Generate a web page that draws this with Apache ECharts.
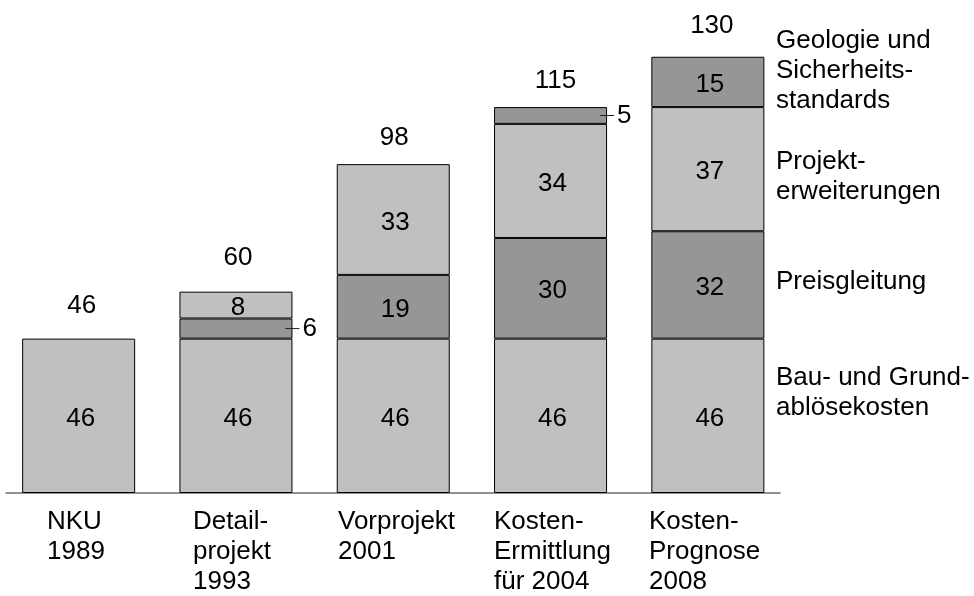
<!DOCTYPE html>
<html>
<head>
<meta charset="utf-8">
<script src="https://cdn.jsdelivr.net/npm/echarts@6/dist/echarts.min.js"></script>
<style>
  html, body { margin: 0; padding: 0; background: #fff; }
  #chart { width: 974px; height: 596px; }
</style>
</head>
<body>
<div id="chart"></div>
<script>
// Cost development in millions, stacked by cost component
const categories = ['NKU\n1989', 'Detail-\nprojekt\n1993', 'Vorprojekt\n2001', 'Kosten-\nErmittlung\nfür 2004', 'Kosten-\nPrognose\n2008'];
const seriesNames = ['Bau- und Grund-\nablösekosten', 'Preisgleitung', 'Projekt-\nerweiterungen', 'Geologie und\nSicherheits-\nstandards'];
const bauGrund = [46, 46, 46, 46, 46];
const preisgleitung = [null, 6, 19, 30, 32];
const projekterweiterungen = [null, 8, 33, 34, 37];
const geologie = [null, null, null, 5, 15];
const totals = [46, 60, 98, 115, 130];

// Layout constants
const FONT = "'Liberation Sans', Arial, Helvetica, sans-serif";
const FONT_SIZE = 26;
const segmentColors = ['#c0c0c0', '#969696', '#c0c0c0', '#969696'];
const categoryLabelX = [47, 193, 338, 494, 649];
const legendLabelY = [363, 267, 147, 26];
const totalLabelGap = [20, 21, 13.5, 13.5, 18];
const totalLabelShift = [3, 2, 1, 5, 4];
const SIDE_LABEL_LIMIT = 7;   // segments thinner than this get their value beside the bar

const segments = [bauGrund, preisgleitung, projekterweiterungen, geologie];

const sideLabel = {
  position: 'right',
  distance: 0,
  offset: [-7, 0],
  formatter: p => '{l|}{v|' + p.value + '}',
  rich: {
    l: { width: 14, height: 1, backgroundColor: '#222', verticalAlign: 'middle' },
    v: { fontSize: FONT_SIZE, fontFamily: FONT, color: '#000', padding: [0, 0, 0, 3], verticalAlign: 'middle' }
  }
};

const barSeries = segments.map((vals, s) => ({
  type: 'bar',
  name: seriesNames[s],
  stack: 'total',
  xAxisIndex: 0,
  yAxisIndex: 0,
  barWidth: 113,
  silent: true,
  itemStyle: { color: segmentColors[s], borderColor: '#000', borderWidth: 1 },
  label: {
    show: true,
    position: 'inside',
    offset: [2, 3],
    color: '#000',
    fontSize: FONT_SIZE,
    fontFamily: FONT
  },
  data: vals.map(v => (v != null && v < SIDE_LABEL_LIMIT) ? { value: v, label: sideLabel } : v)
}));

// Invisible points at the stack totals carry the total labels above each bar
const totalSeries = {
  type: 'scatter',
  xAxisIndex: 0,
  yAxisIndex: 0,
  symbolSize: 0,
  silent: true,
  z: 5,
  itemStyle: { color: '#000', opacity: 1 },
  label: {
    show: true,
    position: 'top',
    color: '#000',
    fontSize: FONT_SIZE,
    fontFamily: FONT,
    formatter: '{c}'
  },
  data: totals.map((v, i) => ({
    value: v,
    label: { color: '#000', distance: totalLabelGap[i], offset: [totalLabelShift[i], 0] }
  }))
};

const textStyle = { fontSize: FONT_SIZE, fontFamily: FONT, fill: '#000', lineHeight: 30 };

const chart = echarts.init(document.getElementById('chart'), null, { renderer: 'canvas' });
chart.setOption({
  animation: false,
  backgroundColor: '#fff',
  grid: [
    { left: -2.8, width: 789.3, top: 23.2, bottom: 103 },
    { left: 6, right: 194, top: 23.2, bottom: 103 }
  ],
  xAxis: [
    {
      type: 'category', gridIndex: 0, data: categories,
      axisLine: { show: false }, axisTick: { show: false }, axisLabel: { show: false }
    },
    {
      type: 'value', gridIndex: 1, min: 0, max: 1,
      axisLine: { show: true, lineStyle: { color: '#6e6e6e', width: 1.5 } },
      axisTick: { show: false }, axisLabel: { show: false }, splitLine: { show: false }
    }
  ],
  yAxis: [
    { type: 'value', gridIndex: 0, min: 0, max: 140, show: false, splitLine: { show: false } },
    { type: 'value', gridIndex: 1, min: 0, max: 1, show: false, splitLine: { show: false } }
  ],
  series: [...barSeries, totalSeries],
  graphic: [
    ...categories.map((t, i) => ({
      type: 'text', left: categoryLabelX[i], top: 507, silent: true,
      style: Object.assign({ text: t }, textStyle)
    })),
    ...seriesNames.map((t, s) => ({
      type: 'text', left: 776, top: legendLabelY[s], silent: true,
      style: Object.assign({ text: t }, textStyle)
    }))
  ]
});
</script>
</body>
</html>
